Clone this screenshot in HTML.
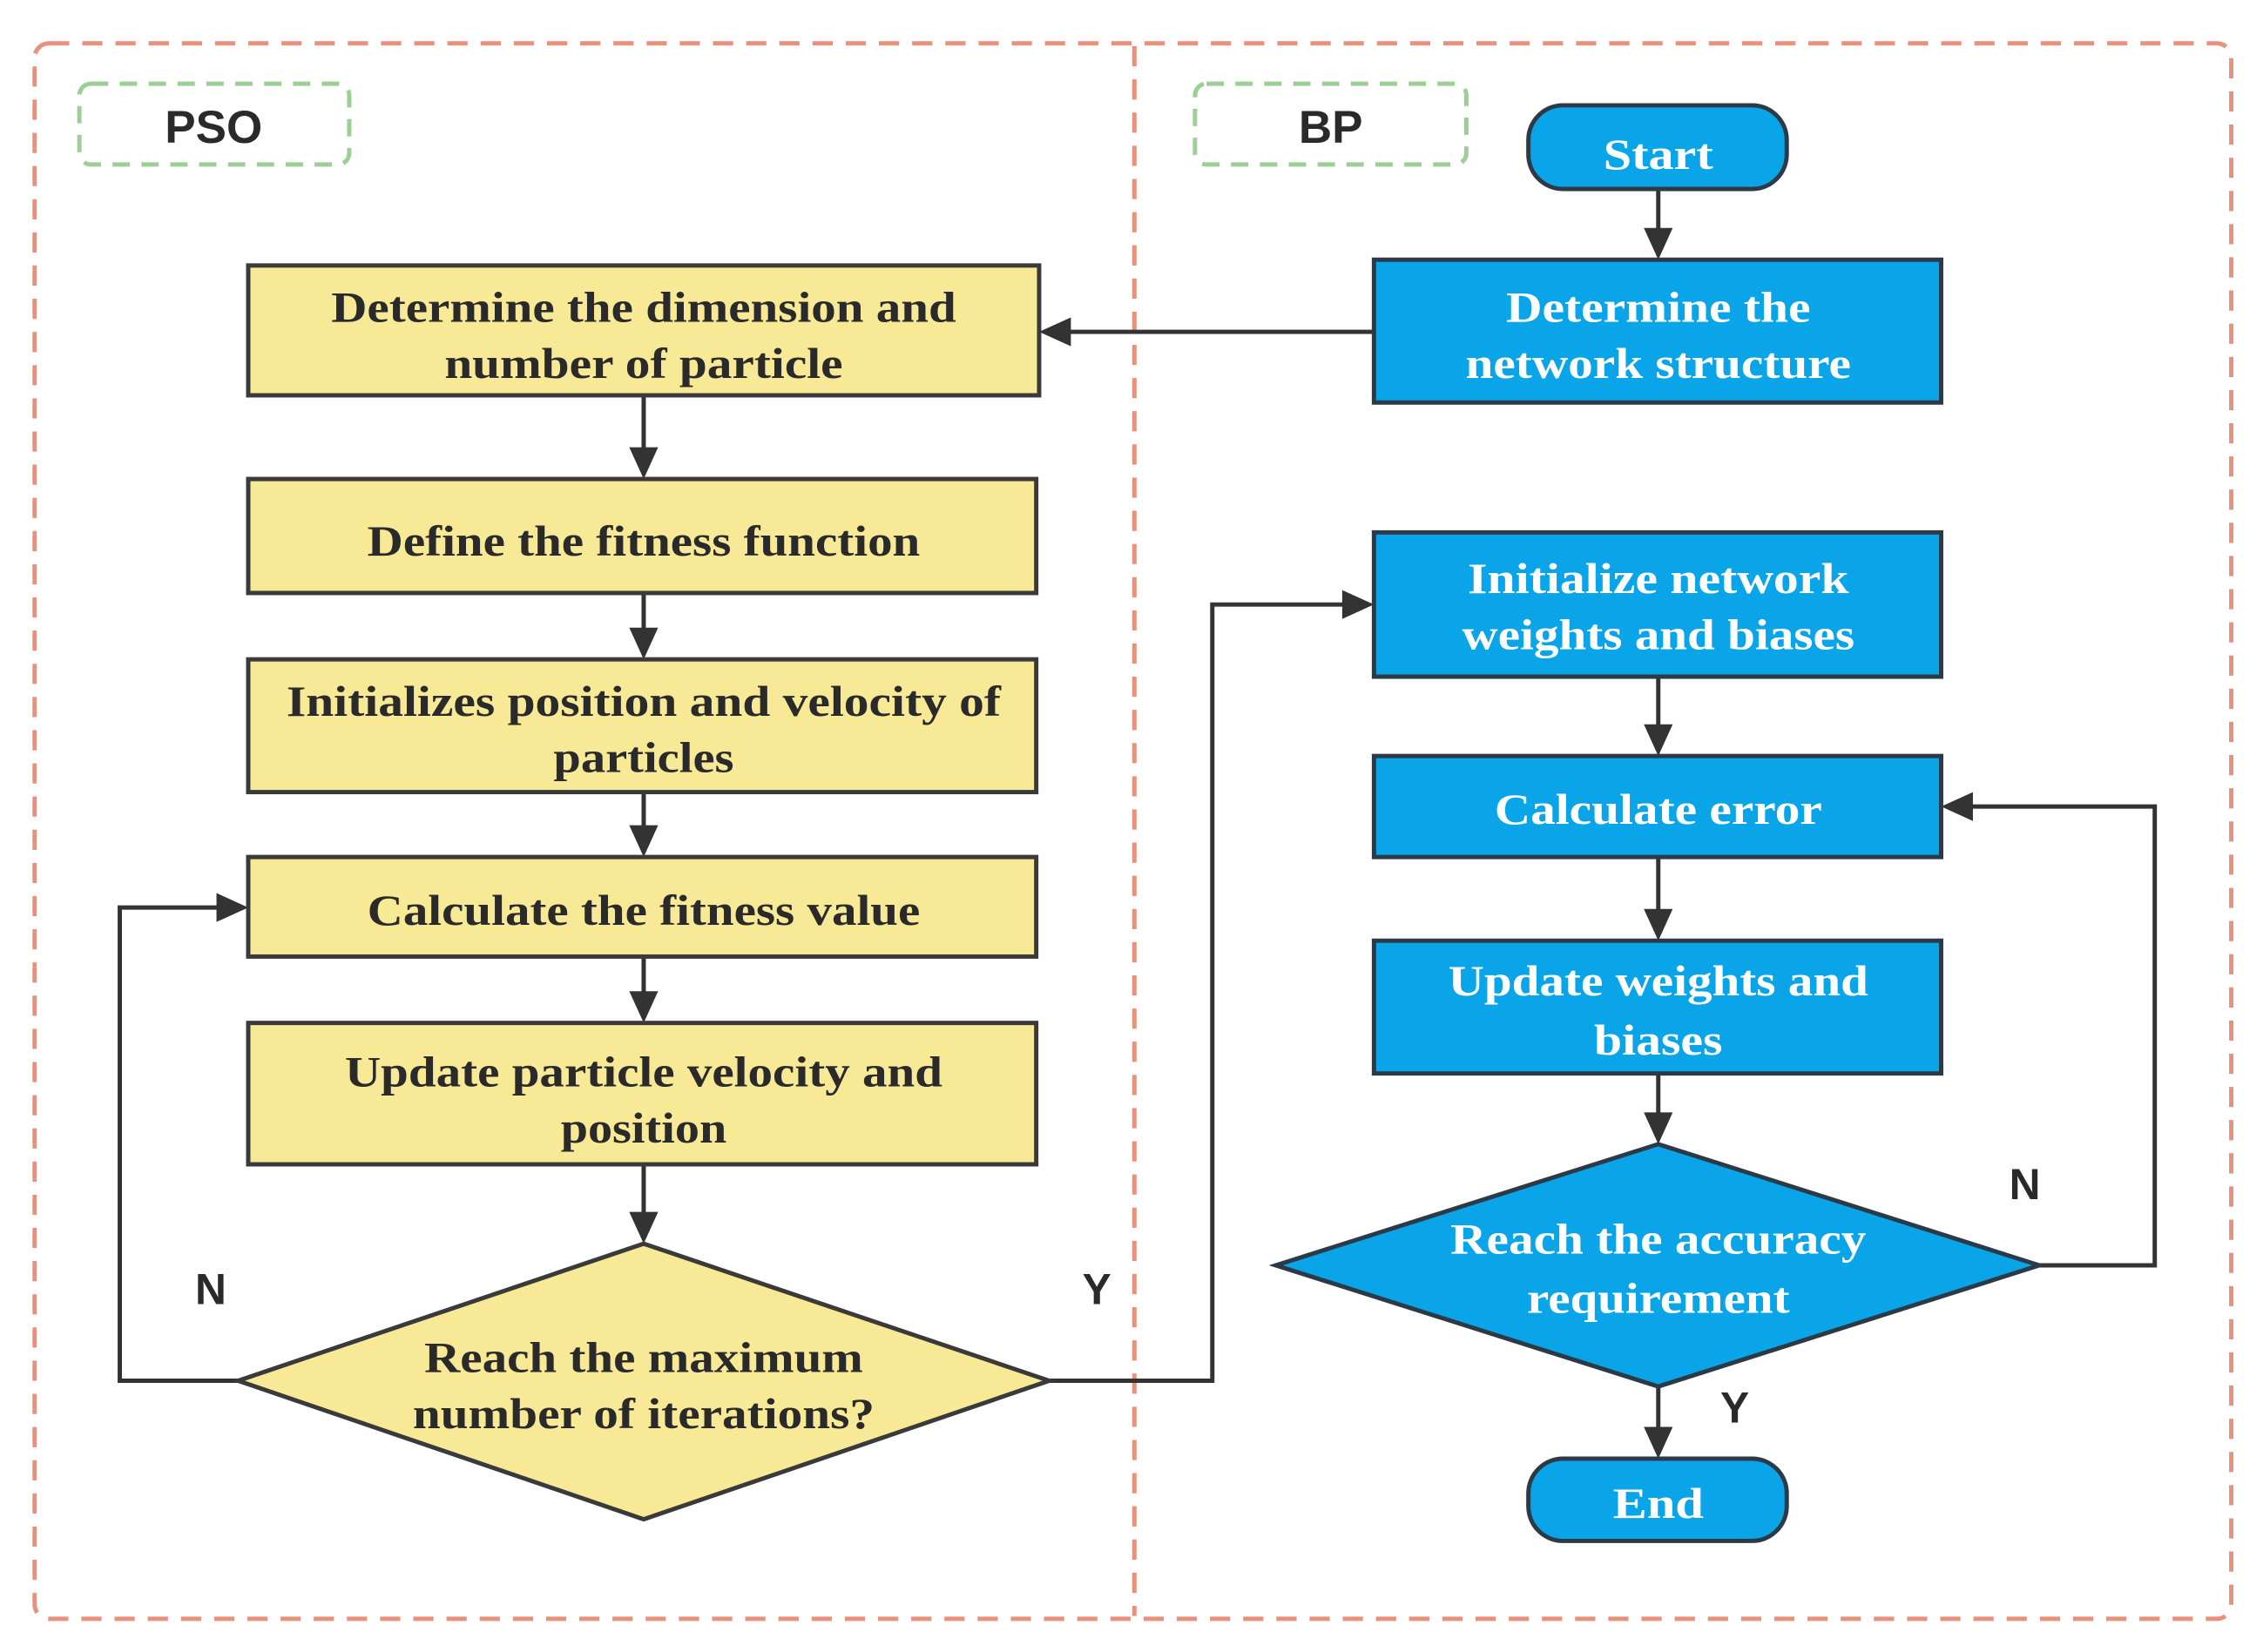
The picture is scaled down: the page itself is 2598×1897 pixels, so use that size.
<!DOCTYPE html>
<html><head><meta charset="utf-8"><style>
html,body{margin:0;padding:0;background:#fff;}
svg{display:block;}
.t{font-family:"Liberation Serif",serif;font-weight:bold;font-size:30px;text-anchor:middle;}
.y{fill:#2a2a2a;}
.w{fill:#fff;}
.l{font-family:"Liberation Sans",sans-serif;font-weight:bold;fill:#2a2a2a;text-anchor:middle;}
</style></head><body>
<svg width="2598" height="1897" viewBox="0 0 1568 1145" preserveAspectRatio="none" xmlns="http://www.w3.org/2000/svg">
<rect width="1568" height="1145" fill="#fff"/>
<rect x="24" y="30" width="1522" height="1092" rx="10" fill="none" stroke="#e8917c" stroke-width="3" stroke-dasharray="14 9"/>
<line x1="786" y1="32" x2="786" y2="1120" stroke="#e8917c" stroke-width="3" stroke-dasharray="14 9"/>
<rect x="55" y="58" width="187" height="56" rx="8" fill="none" stroke="#9ccf94" stroke-width="3" stroke-dasharray="12 8"/>
<text x="148" y="99" class="l" font-size="32">PSO</text>
<rect x="828" y="58" width="188" height="56" rx="8" fill="none" stroke="#9ccf94" stroke-width="3" stroke-dasharray="12 8"/>
<text x="922" y="99" class="l" font-size="32">BP</text>

<g stroke="#333" stroke-width="3" fill="none">
<line x1="446" y1="274" x2="446" y2="312"/>
<line x1="446" y1="411" x2="446" y2="437"/>
<line x1="446" y1="549" x2="446" y2="574"/>
<line x1="446" y1="663" x2="446" y2="689"/>
<line x1="446" y1="807" x2="446" y2="842"/>
<polyline points="165,957 83,957 83,629 152,629"/>
<polyline points="727,957 840,957 840,419 932,419"/>
<line x1="1149" y1="131" x2="1149" y2="160"/>
<line x1="952" y1="230" x2="740" y2="230"/>
<line x1="1149" y1="469" x2="1149" y2="504"/>
<line x1="1149" y1="594" x2="1149" y2="632"/>
<line x1="1149" y1="744" x2="1149" y2="773"/>
<line x1="1149" y1="961" x2="1149" y2="991"/>
<polyline points="1413,877 1493,877 1493,559 1365,559"/>
</g>
<g fill="#333">
<polygon points="436,310 456,310 446,332"/>
<polygon points="436,435 456,435 446,457"/>
<polygon points="436,572 456,572 446,594"/>
<polygon points="436,687 456,687 446,709"/>
<polygon points="436,840 456,840 446,862"/>
<polygon points="150,619 150,639 172,629"/>
<polygon points="930,409 930,429 952,419"/>
<polygon points="1139,158 1159,158 1149,180"/>
<polygon points="742,220 742,240 720,230"/>
<polygon points="1139,502 1159,502 1149,524"/>
<polygon points="1139,630 1159,630 1149,652"/>
<polygon points="1139,771 1159,771 1149,793"/>
<polygon points="1139,989 1159,989 1149,1011"/>
<polygon points="1367,549 1367,569 1345,559"/>
</g>

<g fill="#f7e996" stroke="#3a3a3a" stroke-width="3">
<rect x="172" y="184" width="548" height="90"/>
<rect x="172" y="332" width="546" height="79"/>
<rect x="172" y="457" width="546" height="92"/>
<rect x="172" y="594" width="546" height="69"/>
<rect x="172" y="709" width="546" height="98"/>
<polygon points="446,862 727,957 446,1053 165,957"/>
</g>
<g fill="#0aa5e9" stroke="#2b3a46" stroke-width="3">
<rect x="1059" y="73" width="179" height="58" rx="24"/>
<rect x="952" y="180" width="393" height="99"/>
<rect x="952" y="369" width="393" height="100"/>
<rect x="952" y="524" width="393" height="70"/>
<rect x="952" y="652" width="393" height="92"/>
<polygon points="1149,793 1413,877 1149,961 884,877"/>
<rect x="1059" y="1011" width="179" height="57" rx="24"/>
</g>

<g class="t y">
<text x="446" y="223" textLength="433" lengthAdjust="spacingAndGlyphs">Determine the dimension and</text>
<text x="446" y="262" textLength="276" lengthAdjust="spacingAndGlyphs">number of particle</text>
<text x="446" y="385" textLength="383" lengthAdjust="spacingAndGlyphs">Define the fitness function</text>
<text x="446" y="496" textLength="495" lengthAdjust="spacingAndGlyphs">Initializes position and velocity of</text>
<text x="446" y="535" textLength="125" lengthAdjust="spacingAndGlyphs">particles</text>
<text x="446" y="641" textLength="383" lengthAdjust="spacingAndGlyphs">Calculate the fitness value</text>
<text x="446" y="753" textLength="414" lengthAdjust="spacingAndGlyphs">Update particle velocity and</text>
<text x="446" y="792" textLength="115" lengthAdjust="spacingAndGlyphs">position</text>
<text x="446" y="951" textLength="304" lengthAdjust="spacingAndGlyphs">Reach the maximum</text>
<text x="446" y="990" textLength="320" lengthAdjust="spacingAndGlyphs">number of iterations?</text>
</g>
<g class="t w">
<text x="1149" y="117" textLength="76" lengthAdjust="spacingAndGlyphs">Start</text>
<text x="1149" y="223" textLength="211" lengthAdjust="spacingAndGlyphs">Determine the</text>
<text x="1149" y="262" textLength="267" lengthAdjust="spacingAndGlyphs">network structure</text>
<text x="1149" y="411" textLength="264" lengthAdjust="spacingAndGlyphs">Initialize network</text>
<text x="1149" y="450" textLength="272" lengthAdjust="spacingAndGlyphs">weights and biases</text>
<text x="1149" y="571" textLength="227" lengthAdjust="spacingAndGlyphs">Calculate error</text>
<text x="1149" y="690" textLength="291" lengthAdjust="spacingAndGlyphs">Update weights and</text>
<text x="1149" y="731" textLength="89" lengthAdjust="spacingAndGlyphs">biases</text>
<text x="1149" y="869" textLength="288" lengthAdjust="spacingAndGlyphs">Reach the accuracy</text>
<text x="1149" y="910" textLength="182" lengthAdjust="spacingAndGlyphs">requirement</text>
<text x="1149" y="1052" textLength="63" lengthAdjust="spacingAndGlyphs">End</text>
</g>
<g font-family="Liberation Sans, sans-serif" font-size="30" font-weight="bold" fill="#2a2a2a" text-anchor="middle">
<text x="146" y="904">N</text>
<text x="760" y="904">Y</text>
<text x="1403" y="831">N</text>
<text x="1202" y="986">Y</text>
</g>
</svg>
</body></html>
